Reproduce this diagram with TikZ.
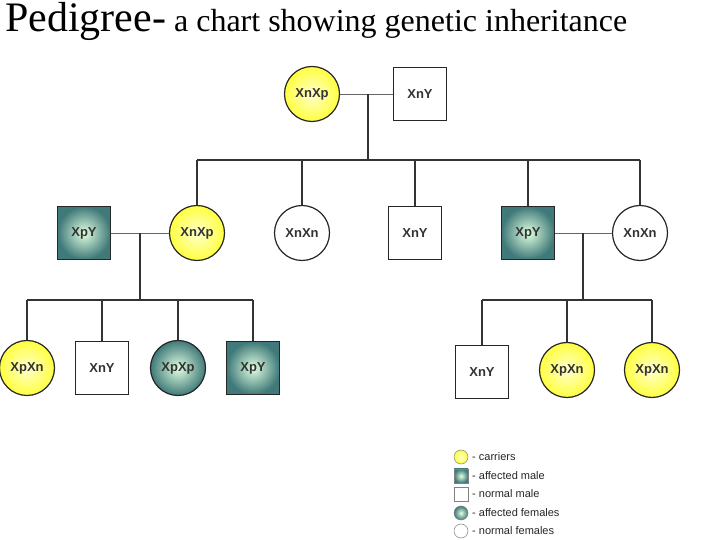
\documentclass[tikz,border=0pt]{standalone}
\usepackage{fontspec}
\setmainfont{Liberation Serif}
\newfontfamily\lab{Liberation Sans}
\begin{document}
\begin{tikzpicture}[x=1pt,y=1pt,
 base/.style={draw=black!85,line width=1.2pt,font=\lab\bfseries\fontsize{13}{13}\selectfont,inner sep=0pt,text=black!80},
 car/.style={base,circle,minimum size=55pt,inner color=yellow!20,outer color=yellow!75},
 nf/.style={base,circle,minimum size=55pt,fill=white},
 af/.style={base,circle,minimum size=55pt,inner color=white!70!green!40,outer color=teal!60!black!75},
 am/.style={base,rectangle,minimum size=53pt,inner color=white!70!green!40,outer color=teal!60!black!75},
 nm/.style={base,rectangle,minimum size=53pt,fill=white},
 ln/.style={line width=1.8pt,black!80},
 thin/.style={line width=0.6pt,black!60},
 leg/.style={font=\lab\fontsize{11}{11}\selectfont,anchor=west,inner sep=1pt,text=black!85}]
\useasboundingbox (0,0) rectangle (720,540);
\node[anchor=base west,inner sep=0pt] (title) at (5,508) {\fontsize{42}{42}\selectfont Pedigree-\fontsize{32}{32}\selectfont\ a chart showing genetic inheritance};
% gen 1
\node[car] (g1f) at (312,446) {XnXp};
\node[nm] (g1m) at (420,446) {XnY};
% gen 2
\node[am] (a) at (84,307) {XpY};
\node[car] (b) at (197,307) {XnXp};
\node[nf] (c) at (302,307) {XnXn};
\node[nm] (d) at (415,307) {XnY};
\node[am] (e) at (528,307) {XpY};
\node[nf] (f) at (640,307) {XnXn};
% gen 3
\node[car] (h1) at (27,172) {XpXn};
\node[nm] (h2) at (102,172) {XnY};
\node[af] (h3) at (178,172) {XpXp};
\node[am] (h4) at (253,172) {XpY};
\node[nm] (i1) at (482,168) {XnY};
\node[car] (i2) at (567,170) {XpXn};
\node[car] (i3) at (652,170) {XpXn};
% connectors
\coordinate (m1) at (368,446);
\coordinate (s1) at (368,380);
\draw[thin] (g1f) -- (g1m);
\draw[ln] (m1) -- (s1);
\draw[ln] (197,380) -- (640,380);
\foreach \n in {b,c,d,e,f} \draw[ln] (\n |- s1) -- (\n);
\coordinate (m2) at (140,307);
\coordinate (s2) at (140,240);
\draw[thin] (a) -- (b);
\draw[ln] (m2) -- (s2);
\draw[ln] (27,240) -- (253,240);
\foreach \n in {h1,h2,h3,h4} \draw[ln] (\n |- s2) -- (\n);
\coordinate (m3) at (583,307);
\coordinate (s3) at (583,240);
\draw[thin] (e) -- (f);
\draw[ln] (m3) -- (s3);
\draw[ln] (482,240) -- (652,240);
\foreach \n in {i1,i2,i3} \draw[ln] (\n |- s3) -- (\n);
% legend
\tikzset{lb/.style={draw=black!50,line width=0.5pt,minimum size=14pt,inner sep=0pt}}
\node[lb,circle,inner color=yellow!20,outer color=yellow!75] (l1) at (461,83) {};
\node[lb,rectangle,inner color=white!70!green!40,outer color=teal!60!black!75] (l2) at (461,64) {};
\node[lb,rectangle,fill=white] (l3) at (461,46) {};
\node[lb,circle,inner color=white!70!green!40,outer color=teal!60!black!75] (l4) at (461,27) {};
\node[lb,circle,fill=white] (l5) at (461,9) {};
\node[leg] at (471,83) {- carriers};
\node[leg] at (471,64) {- affected male};
\node[leg] at (471,46) {- normal male};
\node[leg] at (471,27) {- affected females};
\node[leg] at (471,9) {- normal females};
\end{tikzpicture}
\end{document}
